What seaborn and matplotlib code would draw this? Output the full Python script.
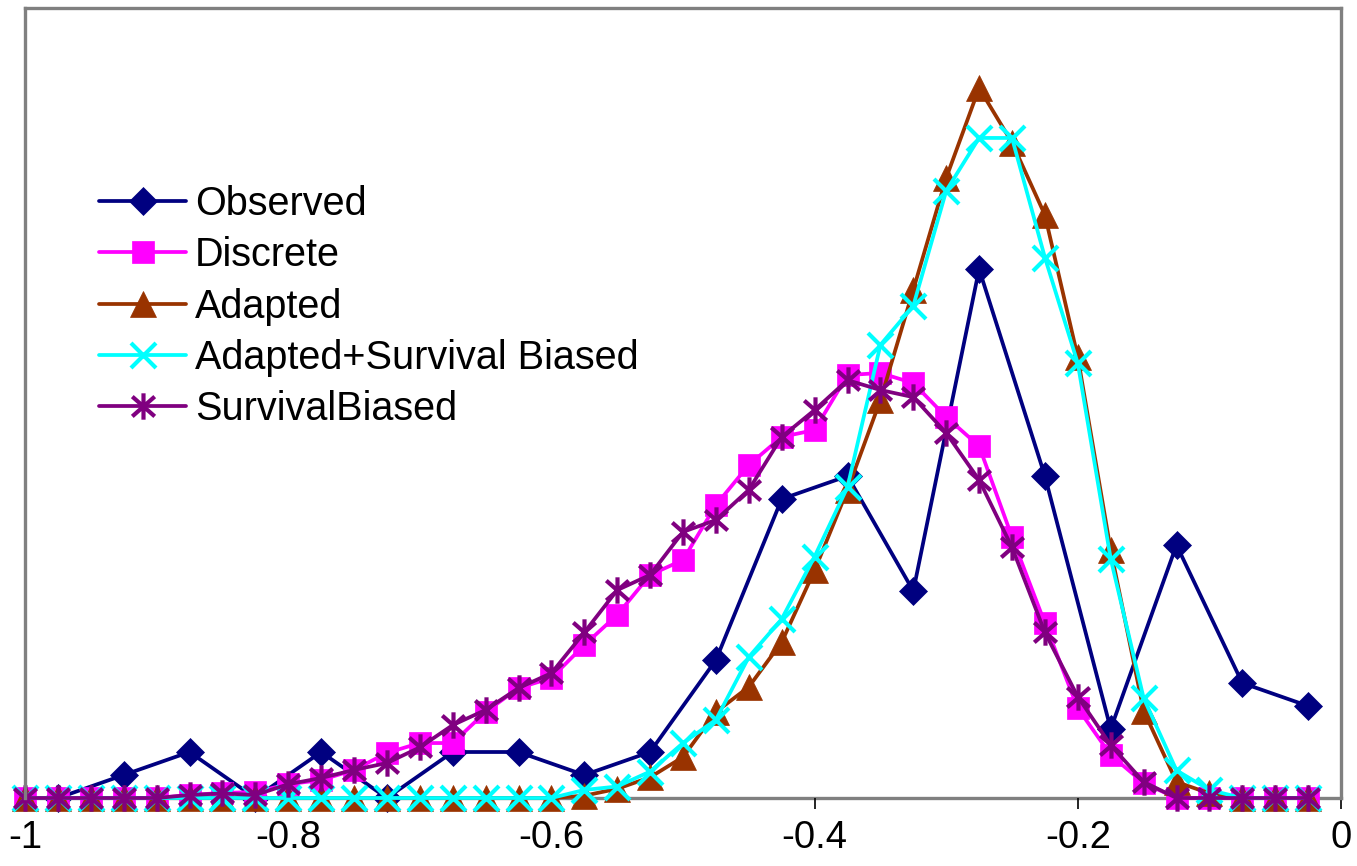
import numpy as np
import pandas as pd
import matplotlib
matplotlib.use("Agg")
import matplotlib.pyplot as plt
from matplotlib.path import Path
import seaborn as sns

# ---------------- data ----------------
x_obs = [-0.975, -0.925, -0.875, -0.825, -0.775, -0.725, -0.675, -0.625, -0.575, -0.525,
         -0.475, -0.425, -0.375, -0.325, -0.275, -0.225, -0.175, -0.125, -0.075, -0.025]
observed = [0, 1, 2, 0, 2, 0, 2, 2, 1, 2, 6, 13, 14, 9, 23, 14, 3, 11, 5, 4]

x_model = [-1.0, -0.975, -0.95, -0.925, -0.9, -0.875, -0.85, -0.825, -0.8, -0.775,
           -0.75, -0.725, -0.7, -0.675, -0.65, -0.625, -0.6, -0.575, -0.55, -0.525,
           -0.5, -0.475, -0.45, -0.425, -0.4, -0.375, -0.35, -0.325, -0.3, -0.275,
           -0.25, -0.225, -0.2, -0.175, -0.15, -0.125, -0.1, -0.075, -0.05, -0.025]

discrete = [0, 0, 0, 0, 0, 0.13, 0.22, 0.26, 0.6, 0.78,
            1.22, 1.96, 2.39, 2.39, 3.74, 4.78, 5.22, 6.65, 7.96, 9.7,
            10.35, 12.74, 14.48, 15.7, 16.0, 18.39, 18.48, 18.04, 16.57, 15.3,
            11.35, 7.6, 3.9, 1.87, 0.65, 0, 0, 0, 0, 0]

adapted = [0, 0, 0, 0, 0, 0, 0, 0, 0, 0,
           0, 0, 0, 0, 0, 0, 0, 0.1, 0.4, 0.9,
           1.78, 3.74, 4.83, 6.78, 9.9, 13.4, 17.3, 22.1, 26.96, 30.87,
           28.5, 25.35, 19.17, 10.78, 3.8, 0.7, 0.2, 0, 0, 0]

adapted_sb = [0, 0, 0, 0, 0, 0, 0, 0, 0, 0,
              0, 0, 0, 0, 0, 0, 0, 0.35, 0.5, 1.15,
              2.39, 3.4, 6.13, 7.78, 10.5, 13.52, 19.7, 21.4, 26.4, 28.7,
              28.7, 23.5, 18.9, 10.4, 4.35, 1.2, 0.35, 0, 0, 0]

survival_biased = [0, 0, 0, 0, 0, 0.13, 0.2, 0.13, 0.6, 0.87,
                   1.22, 1.52, 2.2, 3.17, 3.83, 4.78, 5.43, 7.2, 9.04, 9.7,
                   11.57, 12.09, 13.4, 15.7, 16.87, 18.17, 17.74, 17.43, 15.87, 13.83,
                   10.9, 7.2, 4.4, 2.3, 0.7, 0, 0, 0, 0, 0]

series_names = ["Observed", "Discrete", "Adapted", "Adapted+Survival Biased", "SurvivalBiased"]
tick_values = [-1.0, -0.8, -0.6, -0.4, -0.2, 0.0]
tick_labels = ["-1", "-0.8", "-0.6", "-0.4", "-0.2", "0"]

# ---------------- style ----------------
sns.set_style("white")
plt.rcParams["font.family"] = ["Liberation Sans", "DejaVu Sans"]
plt.rcParams["text.color"] = "black"
plt.rcParams["xtick.color"] = "black"
plt.rcParams["xtick.labelcolor"] = "black"

W, H = 1357, 866
fig = plt.figure(figsize=(W / 100, H / 100), dpi=100)
ax = fig.add_axes([25 / W, 1 - 798 / H, (1341 - 25) / W, (798 - 8) / H])

asterisk = Path(
    [(0, -1), (0, 1), (-0.85, -0.75), (0.85, 0.75), (-0.85, 0.75), (0.85, -0.75)],
    [Path.MOVETO, Path.LINETO, Path.MOVETO, Path.LINETO, Path.MOVETO, Path.LINETO],
)

LW = 2.7
specs = [
    (series_names[0], x_obs, observed, "#000080", "D", 14, dict(markerfacecolor="#000080", markeredgewidth=0.5)),
    (series_names[1], x_model, discrete, "#FF00FF", "s", 16.5, dict(markerfacecolor="#FF00FF", markeredgewidth=0.5)),
    (series_names[2], x_model, adapted, "#993300", "^", 19, dict(markerfacecolor="#993300", markeredgewidth=0.5)),
    (series_names[3], x_model, adapted_sb, "#00FFFF", "x", 18, dict(markeredgewidth=3.0)),
    (series_names[4], x_model, survival_biased, "#800080", asterisk, 19, dict(markerfacecolor="none", markeredgewidth=3.0)),
]

handles = []
for name, xs, ys, col, mk, ms, extra in specs:
    df = pd.DataFrame({"x": xs, "y": ys})
    sns.lineplot(data=df, x="x", y="y", ax=ax, color=col, linewidth=LW,
                 marker=mk, markersize=ms, markeredgecolor=col, label=name,
                 legend=False, **extra)
    handles.append(ax.lines[-1])

ax.set_xlim(-1.0, 0.0)
ax.set_ylim(0, 34.35)
ax.set_xticks(tick_values)
ax.set_xticklabels(tick_labels)
ax.set_yticks([])
ax.set_xlabel("")
ax.set_ylabel("")
ax.tick_params(axis="x", direction="out", length=8, width=1.2, color="black",
               labelcolor="black", labelsize=27.5, pad=8, bottom=True)
for sp in ax.spines.values():
    sp.set_color("#808080")
    sp.set_linewidth(2.4)
    sp.set_visible(True)
ax.spines["bottom"].set_zorder(0.5)
for ln in ax.lines:
    ln.set_clip_on(False)

leg = ax.legend(handles=handles, labels=series_names, loc="upper left",
                bbox_to_anchor=(99 / W, 1 - 185 / H), bbox_transform=fig.transFigure,
                frameon=False, fontsize=28.5, handlelength=2.2, handletextpad=0.22,
                labelspacing=0.335, borderpad=0, borderaxespad=0)
for t in leg.get_texts():
    t.set_color("black")

fig.savefig("out.png", dpi=100)
